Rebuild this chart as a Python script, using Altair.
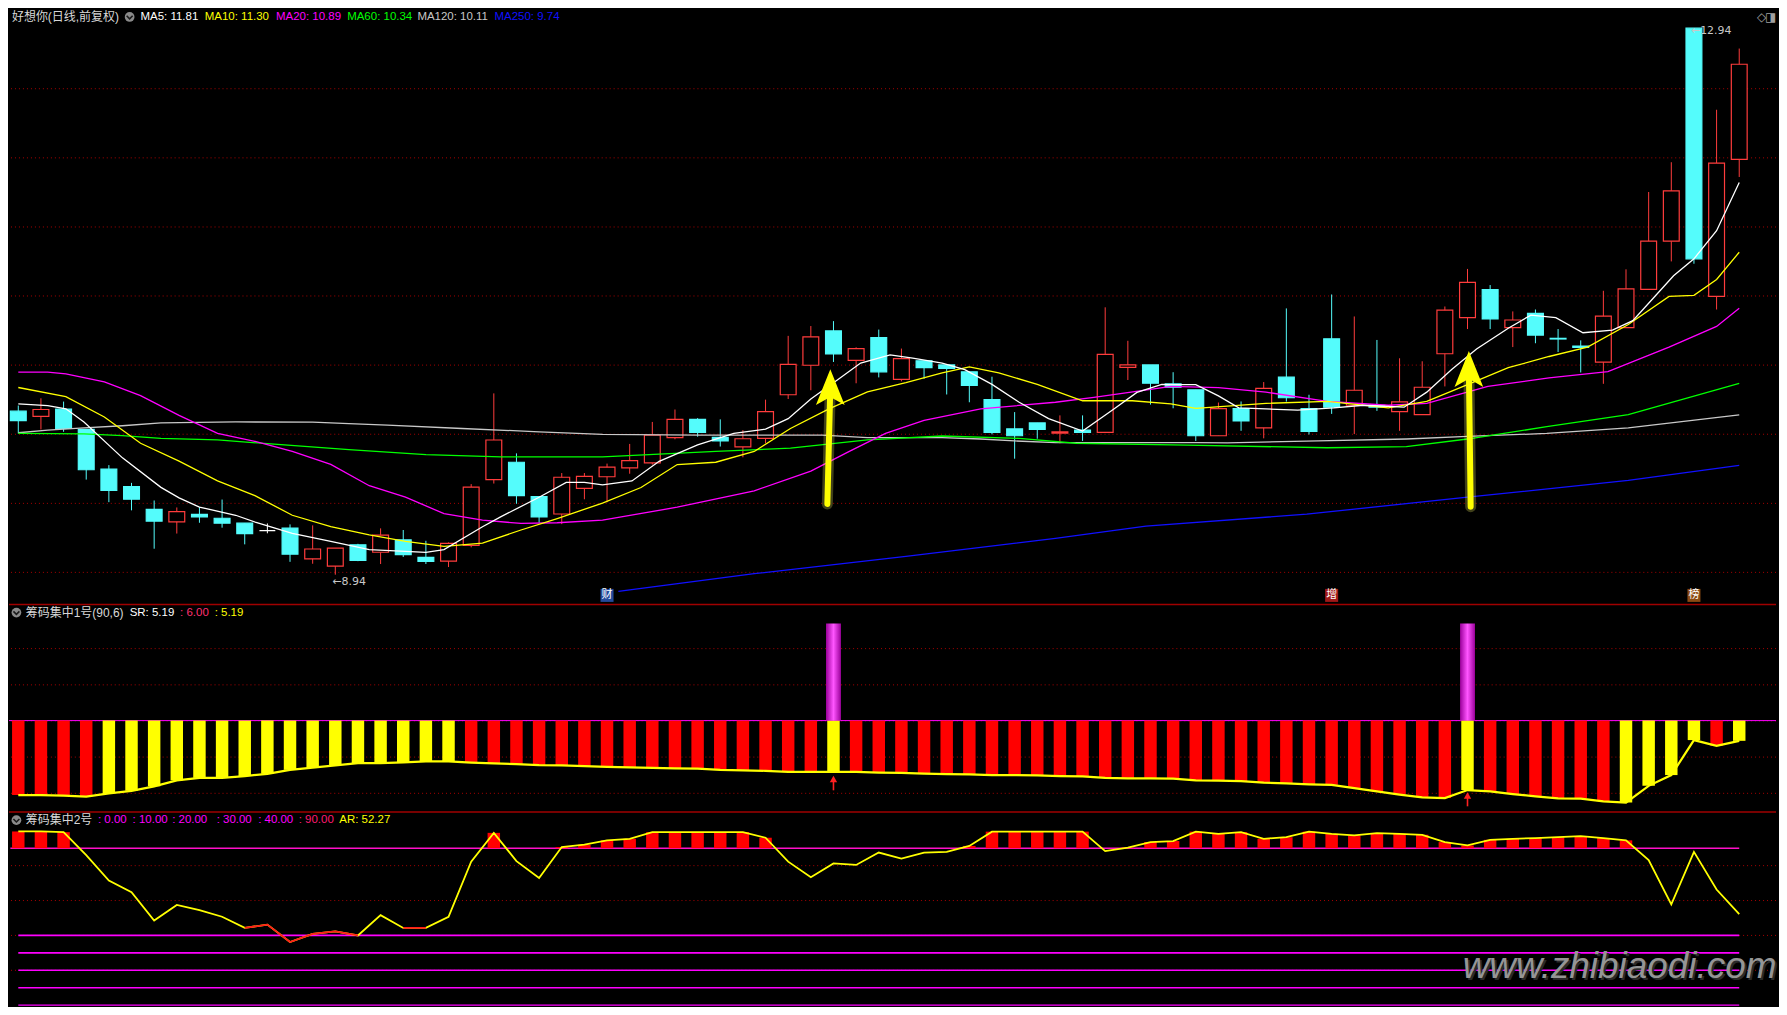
import altair as alt
import pandas as pd

# ------------------------------------------------------------------ data
candle_idx = list(range(77))
opens = [10.137, 10.099, 10.152, 10.003, 9.713, 9.584, 9.418, 9.327, 9.382, 9.353,
         9.317, 9.262, 9.281, 9.056, 9.003, 9.159, 9.104, 9.195, 9.066, 9.039,
         9.154, 9.636, 9.763, 9.512, 9.384, 9.572, 9.657, 9.722, 9.758, 9.943,
         10.077, 9.945, 9.875, 9.938, 10.257, 10.473, 10.724, 10.509, 10.676, 10.369,
         10.506, 10.475, 10.425, 10.221, 10.007, 10.051, 9.976, 9.998, 9.981, 10.458,
         10.475, 10.336, 10.293, 9.957, 10.155, 10.015, 10.386, 10.155, 10.667, 10.180,
         10.180, 10.133, 10.111, 10.557, 10.821, 11.027, 10.749, 10.853, 10.670, 10.614,
         10.496, 10.749, 11.029, 11.381, 12.940, 10.977, 11.980]
highs = [10.178, 10.231, 10.207, 10.003, 9.742, 9.612, 9.483, 9.432, 9.435, 9.490,
         9.317, 9.315, 9.308, 9.301, 9.135, 9.166, 9.279, 9.267, 9.188, 9.176,
         9.603, 10.267, 9.828, 9.512, 9.684, 9.684, 9.753, 9.897, 10.058, 10.149,
         10.086, 10.077, 9.998, 10.221, 10.688, 10.760, 10.796, 10.604, 10.734, 10.595,
         10.506, 10.475, 10.425, 10.389, 10.130, 10.051, 10.106, 10.106, 10.897, 10.652,
         10.475, 10.422, 10.293, 10.200, 10.208, 10.350, 10.889, 10.257, 10.991, 10.830,
         10.658, 10.524, 10.502, 10.903, 11.178, 11.060, 10.867, 10.881, 10.738, 10.655,
         11.018, 11.175, 11.741, 11.959, 12.940, 12.343, 12.791]
lows = [9.974, 10.003, 9.986, 9.636, 9.471, 9.411, 9.130, 9.241, 9.320, 9.284,
        9.162, 9.243, 9.034, 9.020, 8.940, 9.039, 9.018, 9.070, 9.018, 8.996,
        9.140, 9.607, 9.459, 9.320, 9.310, 9.492, 9.470, 9.679, 9.746, 9.931,
        9.950, 9.878, 9.799, 9.902, 10.226, 10.290, 10.497, 10.341, 10.384, 10.355,
        10.374, 10.259, 10.202, 9.967, 9.789, 9.935, 9.902, 9.919, 9.981, 10.365,
        10.185, 10.158, 9.919, 9.957, 9.993, 9.938, 10.207, 9.966, 10.117, 9.969,
        10.139, 9.993, 10.111, 10.318, 10.738, 10.738, 10.606, 10.634, 10.570, 10.420,
        10.337, 10.749, 11.029, 11.233, 11.216, 10.881, 11.851]
closes = [10.068, 10.149, 10.010, 9.708, 9.557, 9.492, 9.332, 9.401, 9.363, 9.317,
          9.241, 9.262, 9.090, 9.128, 9.135, 9.044, 9.229, 9.087, 9.037, 9.169,
          9.581, 9.926, 9.519, 9.363, 9.653, 9.660, 9.727, 9.775, 9.962, 10.077,
          9.981, 9.919, 9.935, 10.134, 10.480, 10.681, 10.556, 10.595, 10.425, 10.521,
          10.456, 10.449, 10.326, 9.981, 9.957, 10.003, 9.985, 9.981, 10.552, 10.475,
          10.341, 10.312, 9.957, 10.155, 10.065, 10.304, 10.235, 9.988, 10.166, 10.290,
          10.166, 10.205, 10.312, 10.876, 11.079, 10.812, 10.804, 10.694, 10.665, 10.603,
          10.832, 11.032, 11.381, 11.750, 11.252, 11.953, 12.676]

ma5_i = [0, 1.3, 2.1, 2.9, 4.6, 6.3, 7.1, 8, 9.6, 10.5, 12.1, 13.8, 15.5, 17.1, 18, 18.8,
         20.5, 21.3, 23, 24.2, 25, 25.8, 27.1, 28.3, 30, 31.6, 33, 34, 35, 36.2, 37.2,
         38.5, 39.5, 40.8, 41.8, 43, 44.2, 45.5, 47, 48.4, 49.4, 50.5, 51.1, 52, 53, 53.9,
         55.1, 56.5, 58.1, 59.4, 61.2, 62.2, 63.3, 64.4, 65.8, 66.8, 67.9, 69.1, 70.4,
         71.3, 72.2, 73.1, 74, 75, 76]
ma5_v = [10.19, 10.178, 10.154, 10.058, 9.795, 9.579, 9.502, 9.435, 9.375, 9.322, 9.243,
         9.183, 9.123, 9.111, 9.104, 9.123, 9.291, 9.363, 9.507, 9.615, 9.615, 9.598,
         9.626, 9.77, 9.89, 9.974, 10.005, 10.082, 10.226, 10.369, 10.489, 10.549, 10.525,
         10.489, 10.441, 10.333, 10.202, 10.082, 9.991, 10.154, 10.274, 10.333, 10.331,
         10.331, 10.249, 10.161, 10.153, 10.144, 10.161, 10.18, 10.166, 10.276, 10.441,
         10.592, 10.744, 10.84, 10.821, 10.711, 10.73, 10.799, 10.963, 11.128, 11.252,
         11.458, 11.81]
ma10_i = [0, 2.1, 3.8, 5.4, 7.1, 8.8, 10.45, 12.1, 13.8, 15.5, 17.1, 18.8, 20.5, 22.2, 23.8,
          25.8, 27.5, 29.1, 30.8, 32.5, 34.1, 35.8, 37.5, 39.2, 40.8, 42, 43.3, 45, 47,
          49.2, 50.9, 52, 55.1, 57.8, 60.5, 62.2, 64, 65.8, 67.6, 69.3, 71.1, 72.9, 74,
          75, 76]
ma10_v = [10.31, 10.243, 10.094, 9.902, 9.771, 9.627, 9.519, 9.375, 9.291, 9.231, 9.183,
          9.147, 9.171, 9.267, 9.351, 9.464, 9.578, 9.746, 9.763, 9.842, 10.01, 10.154,
          10.278, 10.346, 10.417, 10.461, 10.417, 10.333, 10.213, 10.213, 10.19, 10.158,
          10.194, 10.208, 10.161, 10.208, 10.331, 10.455, 10.537, 10.606, 10.771, 10.977,
          10.985, 11.101, 11.30]
ma20_i = [0, 1.3, 2.1, 3.8, 5.4, 7.1, 8.8, 10.5, 12.1, 13.8, 15.5, 17.1, 18.8, 20.5, 22.2,
          23.8, 25.8, 29.1, 32.5, 35, 36.7, 38.3, 40, 42.5, 45.8, 47.5, 50, 50.9, 53,
          55.1, 57.8, 60.5, 62.2, 64.9, 67.6, 70.2, 72.9, 75, 76]
ma20_v = [10.423, 10.423, 10.41, 10.351, 10.25, 10.106, 9.974, 9.914, 9.842, 9.747, 9.591,
          9.507, 9.387, 9.339, 9.315, 9.32, 9.339, 9.434, 9.554, 9.698, 9.842, 9.974, 10.07,
          10.154, 10.202, 10.238, 10.297, 10.318, 10.309, 10.276, 10.208, 10.18, 10.194,
          10.318, 10.381, 10.427, 10.606, 10.757, 10.89]
ma60_i = [0, 2.9, 4.6, 6.3, 8.8, 11.3, 14.6, 18, 21.3, 25.8, 30.8, 34.1, 37.5, 40.8, 44.2,
          46.7, 51.6, 57.8, 61.3, 64, 67.5, 71.1, 76]
ma60_v = [9.974, 9.97, 9.958, 9.938, 9.926, 9.895, 9.855, 9.819, 9.802, 9.802, 9.842, 9.866,
          9.926, 9.955, 9.938, 9.902, 9.888, 9.869, 9.878, 9.933, 10.023, 10.111, 10.34]
ma120_i = [0, 1.3, 2.9, 4.6, 6.3, 9.6, 13, 14.6, 16.3, 19.6, 23, 25.8, 30, 35.5, 37.5, 40.8,
           42.5, 44, 45.8, 52, 53.4, 57.4, 61.3, 64, 67.5, 71.1, 76]
ma120_v = [9.979, 9.998, 10.015, 10.03, 10.051, 10.058, 10.056, 10.046, 10.034, 10.01, 9.986,
           9.967, 9.962, 9.962, 9.943, 9.943, 9.933, 9.919, 9.907, 9.907, 9.905, 9.919, 9.933,
           9.952, 9.974, 10.015, 10.11]
ma250_i = [26.5, 32.5, 39.2, 45.8, 49.8, 56.9, 64, 71.1, 76]
ma250_v = [8.818, 8.947, 9.074, 9.206, 9.295, 9.383, 9.507, 9.63, 9.74]

# main-panel guides and annotations
grid_main = [12.497, 11.991, 11.485, 10.980, 10.474, 9.968, 9.462, 8.957]
arrow_i_bot = [35.73, 64.14]
arrow_p_bot = [9.458, 9.438]
arrow_i_top = [35.86, 64.06]
arrow_p_head = [10.313, 10.446]
tag_i = [26, 58, 74]
tag_txt = ["财", "增", "榜"]
tag_bg = ["#234a9c", "#a01818", "#8b4a12"]

# panel 2 (筹码集中1号)
sr_vals = [3.02, 3.02, 3.00, 2.96, 3.09, 3.19, 3.37, 3.61, 3.71, 3.71,
           3.78, 3.87, 4.03, 4.12, 4.21, 4.30, 4.30, 4.33, 4.37, 4.37,
           4.32, 4.29, 4.26, 4.22, 4.21, 4.18, 4.15, 4.13, 4.11, 4.09,
           4.08, 4.03, 4.01, 3.99, 3.95, 3.95, 3.95, 3.95, 3.92, 3.91,
           3.88, 3.86, 3.85, 3.82, 3.82, 3.81, 3.78, 3.77, 3.71, 3.69,
           3.69, 3.68, 3.61, 3.60, 3.58, 3.52, 3.49, 3.45, 3.43, 3.30,
           3.17, 3.04, 2.93, 2.90, 3.22, 3.17, 3.06, 2.97, 2.89, 2.88,
           2.77, 2.72, 3.39, 3.82, 5.22, 4.99, 5.19]
sr_kind = list("RRRR" + "Y" * 16 + "R" * 16 + "Y" + "R" * 27 + "Y" + "R" * 6 + "YYYY" + "R" + "Y")
sr_top = 6.0
peak_i = [36, 64]
peak_v = [9.89, 9.89]
up_i = [36, 64]
up_top = [3.66, 3.00]
up_bot = [3.21, 2.57]
grid_p2 = [8.88, 7.43, 5.99, 4.54, 3.09]

# panel 3 (筹码集中2号)
ar_vals = [99.6, 99.6, 99.2, 86.0, 71.4, 64.8, 48.5, 57.5, 54.5, 50.7,
           44.3, 46.2, 36.2, 40.9, 42.3, 40.0, 51.6, 44.3, 44.3, 50.7,
           82.3, 98.8, 82.6, 72.9, 90.7, 92.0, 94.5, 95.4, 99.2, 99.2,
           99.2, 99.2, 99.2, 96.0, 82.3, 73.4, 81.3, 80.4, 87.5, 84.1,
           87.5, 87.9, 91.3, 99.5, 99.5, 99.5, 99.5, 99.5, 88.3, 90.3,
           93.5, 94.1, 99.5, 98.2, 99.2, 95.4, 96.3, 99.5, 98.2, 97.3,
           98.6, 98.2, 97.7, 93.5, 91.6, 94.8, 95.4, 95.8, 96.3, 96.9,
           95.8, 94.5, 83.2, 57.8, 87.9, 66.3, 52.27]
ar_red_seg = [0] * 10 + [1] * 6 + [0] + [2] * 2 + [0] * 58
level_lines = [0, 10, 20, 30, 40]
level_top = 90
grid_p3 = [80, 60, 40, 20]

# ------------------------------------------------------------------ layout
W = 1771
HM, H2, H3 = 596, 208, 195
SX = W / 1787.0
SY = (HM + H2 + H3) / 1015.0
FONT = "Liberation Sans, Noto Sans CJK SC, sans-serif"
ARROWFONT = "DejaVu Sans, Liberation Sans, sans-serif"

RED, CYAN, WHITE = "#ff3c3c", "#54fcfc", "#ffffff"
GRID = "#a80000"

xsc = alt.Scale(domain=[-0.4105, 77.624], nice=False, zero=False)
ysm = alt.Scale(domain=[8.727, 13.0796], nice=False, zero=False)
ys2 = alt.Scale(domain=[2.370, 10.674], nice=False, zero=False)
ys3 = alt.Scale(domain=[-0.39, 111.15], nice=False, zero=False)


def X(f):
    return alt.X(f, type="quantitative", scale=xsc, axis=None)


def Y(f, sc):
    return alt.Y(f, type="quantitative", scale=sc, axis=None)


def txt(s, x, y, color, size=12, font=FONT, **kw):
    return alt.Chart(pd.DataFrame({"t": [s]})).mark_text(
        align="left", baseline="middle", fontSize=size, font=font, color=color, **kw
    ).encode(text="t:N", x=alt.value(x), y=alt.value(y))


def icon(x, y):
    base = alt.Chart(pd.DataFrame({"a": [0]}))
    c = base.mark_point(shape="circle", filled=True, size=95, color="#8a8a8a",
                        opacity=1).encode(x=alt.value(x), y=alt.value(y))
    v = base.mark_point(shape="M-0.5,-0.2L0,0.3L0.5,-0.2", filled=False, size=144,
                        color="#1a1a1a", strokeWidth=1.6, opacity=1).encode(
        x=alt.value(x), y=alt.value(y))
    return [c, v]


def sep():
    return alt.Chart(pd.DataFrame({"a": [0]})).mark_rule(
        color="#a00000", strokeWidth=1.5).encode(
        x=alt.value(0), x2=alt.value(W), y=alt.value(0.75))


# ------------------------------------------------------------------ main panel
cdf = pd.DataFrame({"i": candle_idx, "o": opens, "h": highs, "l": lows, "c": closes})
cdf["col"] = [RED if c > o else (CYAN if c < o else WHITE) for o, c in zip(opens, closes)]
cdf["fillc"] = ["#000000" if c > o else col for o, c, col in zip(opens, closes, cdf["col"])]

grid_layer = alt.Chart(pd.DataFrame({"p": grid_main})).mark_rule(
    color=GRID, strokeDash=[1, 3], strokeWidth=1).encode(y=Y("p", ysm))

wicks = alt.Chart(cdf).mark_rule(strokeWidth=1).encode(
    x=X("i"), y=Y("l", ysm), y2="h:Q", color=alt.Color("col:N", scale=None))
bodies = alt.Chart(cdf).transform_calculate(
    xa="datum.i - 0.35", xb="datum.i + 0.35").mark_rect(strokeWidth=1.2).encode(
    x=X("xa"), x2="xb:Q", y=Y("o", ysm), y2="c:Q",
    fill=alt.Fill("fillc:N", scale=None), stroke=alt.Stroke("col:N", scale=None))


def ma_line(ii, vv, color):
    return alt.Chart(pd.DataFrame({"i": ii, "v": vv})).mark_line(
        color=color, strokeWidth=1.3, clip=True).encode(x=X("i"), y=Y("v", ysm))


mas = [
    ma_line(ma250_i, ma250_v, "#1010ff"),
    ma_line(ma120_i, ma120_v, "#c8c8c8"),
    ma_line(ma60_i, ma60_v, "#00ff00"),
    ma_line(ma20_i, ma20_v, "#ff00ff"),
    ma_line(ma10_i, ma10_v, "#ffff00"),
    ma_line(ma5_i, ma5_v, "#ffffff"),
]

adf = pd.DataFrame({"ib": arrow_i_bot, "pb": arrow_p_bot, "it": arrow_i_top, "ph": arrow_p_head})
arrow_glow = alt.Chart(adf).mark_rule(color="#ffff66", strokeWidth=11, opacity=0.25,
                                      strokeCap="round").encode(
    x=X("ib"), x2="it:Q", y=Y("pb", ysm), y2="ph:Q")
arrow_shaft = alt.Chart(adf).mark_rule(color="#ffff00", strokeWidth=6,
                                       strokeCap="round").encode(
    x=X("ib"), x2="it:Q", y=Y("pb", ysm), y2="ph:Q")
arrow_head = alt.Chart(adf).mark_point(
    shape="M0,-1L0.8,1L0,0.55L-0.8,1Z", filled=True, size=1296, color="#ffff00",
    opacity=1, strokeWidth=0).encode(x=X("it"), y=Y("ph", ysm))

lo_i = lows.index(min(lows))
hi_i = highs.index(max(highs))
ext_df = pd.DataFrame({"i": [lo_i, hi_i], "p": [min(lows), max(highs)],
                       "t": ["←%.2f" % min(lows), "←%.2f" % max(highs)]})
ext_lo = alt.Chart(ext_df.iloc[[0]]).mark_text(
    align="left", baseline="middle", fontSize=11, font=ARROWFONT, color="#c8c8c8",
    dx=-3, dy=7).encode(x=X("i"), y=Y("p", ysm), text="t:N")
ext_hi = alt.Chart(ext_df.iloc[[1]]).mark_text(
    align="left", baseline="middle", fontSize=11, font=ARROWFONT, color="#c8c8c8",
    dx=-3, dy=3).encode(x=X("i"), y=Y("p", ysm), text="t:N")

tag_y = 597 * SY
tdf = pd.DataFrame({"i": tag_i, "t": tag_txt, "bg": tag_bg})
tag_box = alt.Chart(tdf).mark_point(shape="square", filled=True, size=170, opacity=1).encode(
    x=X("i"), y=alt.value(tag_y), color=alt.Color("bg:N", scale=None))
tag_txt_l = alt.Chart(tdf).mark_text(fontSize=11, font="Noto Sans CJK SC", color="#ffffff",
                                     baseline="middle").encode(
    x=X("i"), y=alt.value(tag_y), text="t:N")

hy = 8 * SY
header_main = [
    txt("好想你(日线,前复权)", 3 * SX, hy, "#d8d8d8"),
    *icon(122 * SX, hy),
    txt("MA5: 11.81", 133 * SX, hy, "#ffffff", 11.5),
    txt("MA10: 11.30", 198 * SX, hy, "#ffff00", 11.5),
    txt("MA20: 10.89", 270 * SX, hy, "#ff00ff", 11.5),
    txt("MA60: 10.34", 342 * SX, hy, "#00ff00", 11.5),
    txt("MA120: 10.11", 413 * SX, hy, "#c8c8c8", 11.5),
    txt("MA250: 9.74", 491 * SX, hy, "#1010ff", 11.5),
    txt("◇", 1752, hy, "#a0a0a0", 12, ARROWFONT),
    txt("◨", 1760, hy, "#a0a0a0", 12, ARROWFONT),
]

main = alt.layer(
    grid_layer, wicks, bodies, *mas, arrow_glow, arrow_shaft, arrow_head,
    ext_lo, ext_hi, tag_box, tag_txt_l, *header_main
).properties(width=W, height=HM)

# ------------------------------------------------------------------ panel 2
sdf = pd.DataFrame({"i": candle_idx, "sr": sr_vals, "kind": sr_kind})
g2 = alt.Chart(pd.DataFrame({"v": grid_p2})).mark_rule(
    color=GRID, strokeDash=[1, 3], strokeWidth=1).encode(y=Y("v", ys2))
base6 = alt.Chart(pd.DataFrame({"v": [sr_top]})).mark_rule(
    color="#ff00ff", strokeWidth=1).encode(y=Y("v", ys2))
sr_bars = alt.Chart(sdf).transform_calculate(
    xa="datum.i - 0.275", xb="datum.i + 0.275", top=str(sr_top)).mark_rect().encode(
    x=X("xa"), x2="xb:Q", y=Y("top", ys2), y2="sr:Q",
    color=alt.Color("kind:N", scale=alt.Scale(domain=["R", "Y"], range=["#ff0000", "#ffff00"]),
                    legend=None))
sr_line = alt.Chart(sdf).mark_line(color="#ffff00", strokeWidth=2.2, clip=True).encode(
    x=X("i"), y=Y("sr", ys2))
pdf = pd.DataFrame({"i": peak_i, "v": peak_v})
peaks = alt.Chart(pdf).transform_calculate(
    xa="datum.i - 0.33", xb="datum.i + 0.33", top=str(sr_top)).mark_rect(
    color=alt.LinearGradient(
        gradient="linear", x1=0, x2=1, y1=0, y2=0,
        stops=[alt.GradientStop(color="#9a009a", offset=0),
               alt.GradientStop(color="#ff55ff", offset=0.5),
               alt.GradientStop(color="#9a009a", offset=1)])).encode(
    x=X("xa"), x2="xb:Q", y=Y("v", ys2), y2="top:Q")
udf = pd.DataFrame({"i": up_i, "t": up_top, "b": up_bot})
up_shaft = alt.Chart(udf).mark_rule(color="#ff2020", strokeWidth=1.6).encode(
    x=X("i"), y=Y("t", ys2), y2="b:Q")
up_head = alt.Chart(udf).mark_point(shape="triangle-up", filled=True, size=55,
                                     color="#ff2020", opacity=1).encode(
    x=X("i"), y=Y("t", ys2))
h2y = 9 * SY
header2 = [
    *icon(7.5 * SX, h2y),
    txt("筹码集中1号(90,6)", 17 * SX, h2y, "#d8d8d8"),
    txt("SR: 5.19", 122 * SX, h2y, "#ffffff", 11.5),
    txt(": 6.00", 173 * SX, h2y, "#ff3070", 11.5),
    txt(": 5.19", 208 * SX, h2y, "#ffff00", 11.5),
]
p2 = alt.layer(g2, base6, sr_bars, sr_line, peaks, up_shaft, up_head, sep(), *header2
               ).properties(width=W, height=H2)

# ------------------------------------------------------------------ panel 3
ardf = pd.DataFrame({"i": candle_idx, "ar": ar_vals, "seg": ar_red_seg})
g3 = alt.Chart(pd.DataFrame({"v": grid_p3})).mark_rule(
    color=GRID, strokeDash=[1, 3], strokeWidth=1).encode(y=Y("v", ys3))
lv = alt.Chart(pd.DataFrame({"v": level_lines})).transform_calculate(
    a="0", b="76").mark_rule(color="#ff00ff", strokeWidth=1.6, clip=True).encode(
    x=X("a"), x2="b:Q", y=Y("v", ys3))
lv90 = alt.Chart(pd.DataFrame({"v": [level_top]})).transform_calculate(
    a="-0.35", b="76").mark_rule(color="#ff10c8", strokeWidth=1.6).encode(
    x=X("a"), x2="b:Q", y=Y("v", ys3))
ar_bars = alt.Chart(ardf).transform_filter("datum.ar > %d" % level_top).transform_calculate(
    xa="datum.i - 0.275", xb="datum.i + 0.275", base=str(level_top)).mark_rect(
    color="#ff0000").encode(x=X("xa"), x2="xb:Q", y=Y("base", ys3), y2="ar:Q")
ar_line = alt.Chart(ardf).mark_line(color="#ffff00", strokeWidth=1.8, clip=True).encode(
    x=X("i"), y=Y("ar", ys3))
ar_red = alt.Chart(ardf).transform_filter("datum.seg > 0").mark_line(
    color="#ff1a1a", strokeWidth=1.8, clip=True).encode(
    x=X("i"), y=Y("ar", ys3), detail="seg:N")
h3y = 9 * SY
header3 = [
    *icon(7.5 * SX, h3y),
    txt("筹码集中2号", 17 * SX, h3y, "#d8d8d8"),
    txt(": 0.00", 90 * SX, h3y, "#ff00ff", 11.5),
    txt(": 10.00", 125 * SX, h3y, "#ff00ff", 11.5),
    txt(": 20.00", 165 * SX, h3y, "#ff00ff", 11.5),
    txt(": 30.00", 210 * SX, h3y, "#ff00ff", 11.5),
    txt(": 40.00", 252 * SX, h3y, "#ff00ff", 11.5),
    txt(": 90.00", 293 * SX, h3y, "#ff1a70", 11.5),
    txt("AR: 52.27", 334 * SX, h3y, "#ffff00", 11.5),
]
wm_y = (976 - 817) * SY
watermark_shadow = txt("www.zhibiaodi.com", 1459, wm_y + 2, "#2a2a2a", 37,
                       "Liberation Sans, sans-serif", fontStyle="italic")
watermark = txt("www.zhibiaodi.com", 1457, wm_y, "#959595", 37,
                "Liberation Sans, sans-serif", fontStyle="italic")
p3 = alt.layer(g3, lv, lv90, ar_bars, ar_line, ar_red, sep(), *header3,
               watermark_shadow, watermark).properties(width=W, height=H3)

chart = alt.VConcatChart(vconcat=[main, p2, p3], spacing=0, padding=0,
                         background="#000000").configure_view(stroke=None)

chart.save("out.html", embed_options={"renderer": "svg", "actions": False})
